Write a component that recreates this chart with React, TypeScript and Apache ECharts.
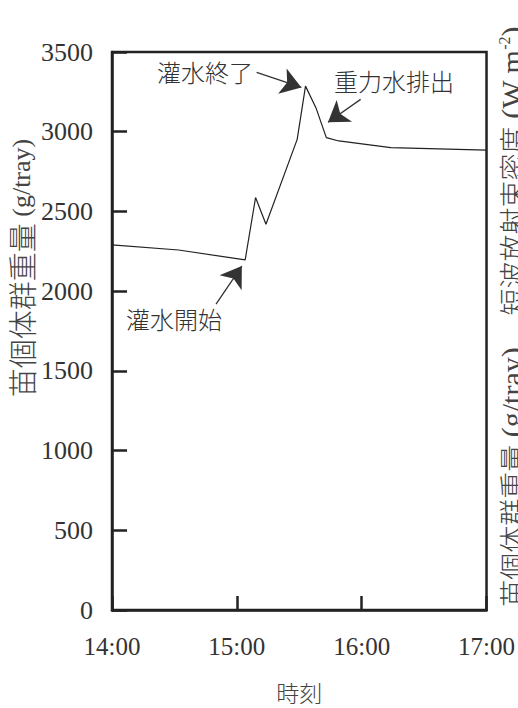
import React, { useEffect, useRef } from "react";
import * as echarts from "echarts";

// minutes after 14:00
const TIMES = [0, 32, 64, 69, 74, 89, 93, 98, 103, 109, 134, 180];
const WEIGHTS = [2290, 2258, 2196, 2587, 2420, 2952, 3286, 3151, 2963, 2942, 2900, 2885];
const TIME_LABELS = ["14:00", "15:00", "16:00", "17:00"];

// annotation arrows in data space: [fromT, fromV, toT, toV]
const ARROWS = [
  [69.5, 3372, 91.0, 3278],
  [119.5, 3203, 103.8, 3059],
  [50, 1919, 62.4, 2157],
];
const NOTES = ["灌水終了", "重力水排出", "灌水開始"];

const SERIF = "Liberation Serif, Times New Roman, serif";
const CJK = "Noto Sans CJK JP, sans-serif";

export default function App() {
  const ref = useRef<HTMLDivElement>(null);
  useEffect(() => {
    if (!ref.current) return;
    const chart = echarts.init(ref.current, null, { renderer: "svg" });
    const data = TIMES.map((t, i) => [t, WEIGHTS[i]]);
    const rich = (cjk: number, lat: number) => ({
      c: { fontFamily: CJK, fontSize: cjk, fontWeight: 300, fill: "#444", color: "#444" },
      l: { fontFamily: SERIF, fontSize: lat, fill: "#444", color: "#444" },
      s: { fontFamily: SERIF, fontSize: 16, fill: "#444", color: "#444", verticalAlign: "top" },
    });
    chart.setOption({
      animation: false,
      backgroundColor: "#fff",
      grid: {
        left: 112,
        top: 52,
        width: 378,
        height: 559,
        show: true,
        borderColor: "#222",
        borderWidth: 2.5,
      },
      xAxis: {
        type: "value",
        min: 0,
        max: 180,
        interval: 60,
        name: "時刻",
        nameLocation: "middle",
        nameGap: 70,
        nameTextStyle: { fontFamily: CJK, fontWeight: 300, fontSize: 23, color: "#444" },
        axisLine: { lineStyle: { color: "#222", width: 2.5 } },
        axisTick: { inside: true, length: 14, lineStyle: { color: "#222", width: 2.5 } },
        splitLine: { show: false },
        axisLabel: {
          margin: 24,
          fontFamily: SERIF,
          fontSize: 25,
          color: "#333",
          formatter: (v: number) => TIME_LABELS[Math.round(v / 60)] ?? "",
        },
      },
      yAxis: {
        type: "value",
        min: 0,
        max: 3500,
        interval: 500,
        axisLine: { show: true, lineStyle: { color: "#222", width: 2.5 } },
        axisTick: { show: true, inside: true, length: 15, lineStyle: { color: "#222", width: 2.5 } },
        splitLine: { show: false },
        axisLabel: {
          margin: 19,
          fontFamily: SERIF,
          fontSize: 26,
          color: "#333",
          formatter: (v: number) => String(v),
        },
      },
      series: [
        {
          type: "line",
          data,
          symbol: "none",
          lineStyle: { color: "#222", width: 1.2 },
          markLine: {
            silent: true,
            symbol: ["none", "arrow"],
            symbolSize: 20,
            lineStyle: { color: "#333", width: 1.3, type: "solid" },
            label: { show: false },
            data: ARROWS.map((a) => [
              { coord: [a[0], a[1]] },
              { coord: [a[2], a[3]] },
            ]),
          },
        },
      ],
      graphic: [
        {
          type: "text",
          x: 157,
          y: 71,
          style: { text: NOTES[0], font: `300 24px ${CJK}`, fill: "#333", textVerticalAlign: "middle" },
        },
        {
          type: "text",
          x: 334,
          y: 80,
          style: { text: NOTES[1], font: `300 24px ${CJK}`, fill: "#333", textVerticalAlign: "middle" },
        },
        {
          type: "text",
          x: 126,
          y: 318,
          style: { text: NOTES[2], font: `300 24px ${CJK}`, fill: "#333", textVerticalAlign: "middle" },
        },
        {
          type: "text",
          x: 21,
          y: 268,
          rotation: Math.PI / 2,
          style: {
            text: "{c|苗個体群重量}{l| (g/tray)}",
            rich: rich(29, 26),
            textAlign: "center",
            textVerticalAlign: "middle",
          },
        },
        {
          type: "text",
          x: 511,
          y: 477,
          rotation: Math.PI / 2,
          style: {
            text: "{c|苗個体群重量}{l| (g/tray)}",
            rich: rich(27, 30),
            textAlign: "center",
            textVerticalAlign: "middle",
          },
        },
        {
          type: "text",
          x: 511,
          y: 171,
          rotation: Math.PI / 2,
          style: {
            text: "{c|短波放射束密度}{l| (W m}{s|-2}{l|)}",
            rich: rich(27, 30),
            textAlign: "center",
            textVerticalAlign: "middle",
          },
        },
      ],
    });
    return () => chart.dispose();
  }, []);
  return (
    <div
      ref={ref}
      style={{ position: "fixed", left: 0, top: 0, width: 518, height: 708 }}
    />
  );
}
